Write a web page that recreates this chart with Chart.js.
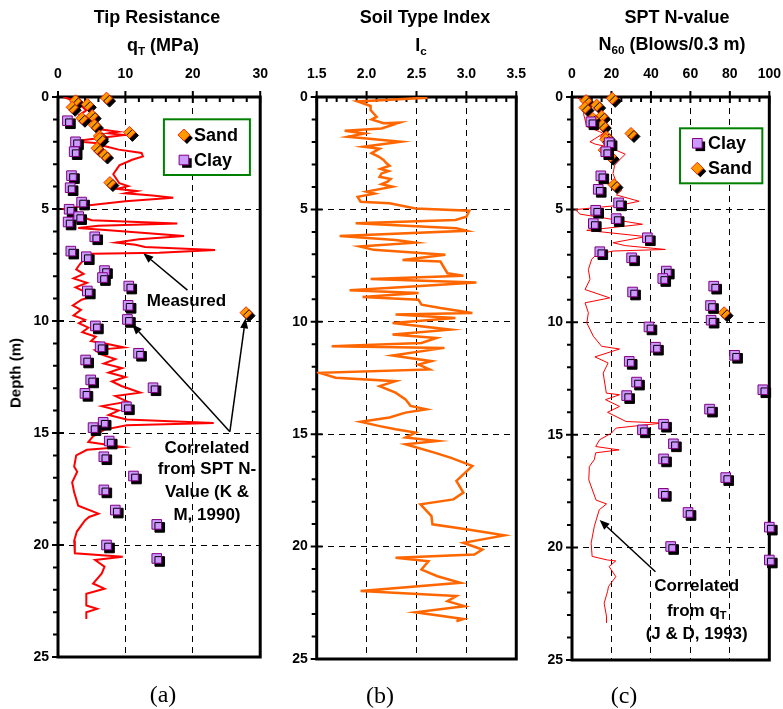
<!DOCTYPE html>
<html>
<head>
<meta charset="utf-8">
<title>CPT / SPT profile</title>
<script src="https://cdn.jsdelivr.net/npm/chart.js@4.4.0/dist/chart.umd.min.js"></script>
<style>
  html, body { margin: 0; padding: 0; background: #fff; overflow: hidden; }
  #page { position: relative; width: 783px; height: 709px; }
  canvas { position: absolute; top: 0; }
  .lbl {
    position: absolute; transform: translate(-50%, -50%); white-space: nowrap;
    font-family: 'Liberation Sans', Arial, sans-serif; font-weight: bold; font-size: 18px;
    line-height: 1; color: #000;
  }
  .lbl sub { font-size: 65%; vertical-align: -0.3em; line-height: 0; }
  .cap { font-family: 'Liberation Serif', 'Times New Roman', serif; font-weight: normal; font-size: 24px; }
</style>
</head>
<body>
<div id="page">
  <canvas id="panelA" width="282" height="709" style="left:0px"></canvas>
  <canvas id="panelB" width="280" height="709" style="left:260px"></canvas>
  <canvas id="panelC" width="280" height="709" style="left:515px"></canvas>

  <div class="lbl" style="left:157px; top:17px">Tip Resistance</div>
  <div class="lbl" style="left:163px; top:45px">q<sub>T</sub> (MPa)</div>
  <div class="lbl" style="left:425px; top:17px">Soil Type Index</div>
  <div class="lbl" style="left:421px; top:45px">I<sub>c</sub></div>
  <div class="lbl" style="left:677px; top:17px">SPT N-value</div>
  <div class="lbl" style="left:672px; top:44px">N<sub>60</sub> (Blows/0.3 m)</div>
  <div class="lbl" style="left:15px; top:373px; font-size:15px; transform:translate(-50%,-50%) rotate(-90deg)">Depth (m)</div>
  <div class="lbl cap" style="left:163px; top:694px">(a)</div>
  <div class="lbl cap" style="left:380px; top:695px">(b)</div>
  <div class="lbl cap" style="left:624px; top:695px">(c)</div>
</div>

<script>
// ---- axis ticks ----
const depthTicks = [0, 5, 10, 15, 20, 25];
const qtTicks = [0, 10, 20, 30];
const icTicks = [1.5, 2.0, 2.5, 3.0, 3.5];
const nTicks = [0, 20, 40, 60, 80, 100];

// ---- panel (a): tip resistance, points are [qT (MPa), depth (m)] ----
const qtMeasured = [
  [0.8, 0], [2.7, 0.2], [3.5, 0.4], [4.2, 0.6], [3.2, 0.8], [4.8, 1.0], [5.5, 1.2], [6.5, 1.45],
  [8.9, 1.55], [7.5, 1.62], [9.8, 1.7], [2.4, 1.98], [5.5, 2.05], [7.0, 2.2], [9.0, 2.35], [12.4, 2.5],
  [12.6, 2.65], [11.0, 2.8], [9.1, 3.05], [8.2, 3.45], [9.1, 3.85], [10.4, 3.98], [8.7, 4.1], [11.7, 4.2],
  [10.0, 4.3], [14.0, 4.4], [17.1, 4.5], [10.0, 4.65], [4.0, 4.85], [0.9, 5.0], [2.0, 5.2], [5.0, 5.5],
  [17.7, 5.65], [6.0, 5.75], [3.0, 5.85], [10.0, 6.0], [18.7, 6.2], [12.0, 6.35], [8.6, 6.5], [11.5, 6.6],
  [12.9, 6.7], [23.3, 6.83], [15.0, 6.95], [5.1, 7.0], [4.0, 7.2], [3.2, 7.48], [2.7, 7.7], [3.8, 7.9],
  [2.3, 8.1], [4.3, 8.3], [2.6, 8.5], [4.0, 8.7], [5.0, 8.9], [3.5, 9.05], [2.2, 9.3], [3.4, 9.5],
  [2.3, 9.75], [4.0, 9.95], [3.1, 10.1], [4.5, 10.3], [3.6, 10.5], [5.6, 10.7], [4.9, 10.9], [7.0, 11.0],
  [9.8, 11.18], [5.5, 11.3], [6.5, 11.5], [8.5, 11.7], [6.8, 11.9], [9.5, 12.1], [7.5, 12.3], [10.0, 12.5],
  [8.0, 12.7], [9.4, 12.9], [12.2, 13.2], [8.5, 13.35], [10.3, 13.6], [6.5, 13.8], [9.0, 14.0], [7.5, 14.2],
  [10.2, 14.4], [23.1, 14.55], [10.2, 14.65], [6.9, 14.85], [5.2, 15.15], [4.5, 15.4], [9.6, 15.62], [4.3, 15.75],
  [2.7, 16.0], [2.4, 16.5], [2.85, 16.73], [2.1, 17.2], [2.4, 17.65], [3.0, 18.25], [6.0, 18.6], [4.6, 18.75],
  [4.0, 18.9], [2.8, 19.4], [2.4, 19.8], [2.5, 20.37], [9.6, 20.52], [5.5, 20.67], [6.9, 20.97], [6.5, 21.27],
  [5.2, 21.72], [6.9, 21.95], [4.2, 22.18], [4.2, 22.7], [5.8, 22.85], [4.2, 23.0], [4.2, 23.3]
];
const qtSand = [
  [7.2, 0.05], [2.6, 0.17], [4.35, 0.33], [2.1, 0.46], [5.07, 0.83], [3.55, 0.95], [5.4, 1.25],
  [10.6, 1.58], [6.15, 1.74], [6.2, 1.85], [5.8, 2.29], [6.9, 2.59], [7.7, 3.82], [27.9, 9.63]
];
const qtClay = [
  [1.4, 1.06], [2.6, 2.0], [2.4, 2.44], [2.0, 3.51], [1.8, 4.05], [3.5, 4.69], [1.65, 5.01], [3.07, 5.34],
  [1.5, 5.58], [5.45, 6.24], [1.9, 6.88], [4.2, 7.13], [6.9, 7.75], [6.6, 8.06], [10.5, 8.44], [4.35, 8.66],
  [10.4, 9.3], [10.3, 9.93], [5.55, 10.22], [6.25, 11.15], [11.95, 11.44], [4.1, 11.74], [4.85, 12.63], [14.1, 12.98],
  [4.0, 13.23], [10.15, 13.83], [6.7, 14.52], [5.2, 14.76], [7.6, 15.36], [6.8, 16.06], [11.2, 16.92], [6.8, 17.54],
  [8.5, 18.44], [14.65, 19.08], [7.2, 20.0], [14.65, 20.6]
];

// ---- panel (b): soil type index, [Ic, depth] ----
const icProfile = [
  [2.61, 0.03], [1.91, 0.2], [2.04, 0.4], [2.04, 0.58], [2.1, 0.88], [2.05, 1.0], [2.17, 1.17], [2.33, 1.14],
  [2.15, 1.4], [1.78, 1.5], [1.98, 1.62], [1.81, 1.77], [2.0, 1.85], [2.34, 1.99], [1.97, 2.21], [2.13, 2.3],
  [2.05, 2.5], [2.12, 2.65], [2.17, 2.8], [2.2, 2.95], [2.23, 3.06], [2.14, 3.2], [2.22, 3.3], [2.15, 3.4],
  [2.13, 3.55], [2.24, 3.65], [2.21, 3.77], [2.15, 3.88], [2.26, 3.99], [2.0, 4.21], [2.08, 4.3],
  [1.91, 4.44], [1.94, 4.66], [2.23, 4.73], [2.49, 4.96], [3.03, 5.06], [3.0, 5.33], [2.89, 5.47], [1.89, 5.62],
  [2.9, 5.84], [3.0, 5.95], [1.73, 6.18], [2.29, 6.36], [2.49, 6.48], [1.93, 6.65], [2.07, 6.8], [2.79, 7.02],
  [2.36, 7.25], [2.74, 7.32], [2.81, 7.84], [2.97, 7.95], [2.04, 8.1], [3.1, 8.25], [2.46, 8.43], [1.83, 8.6],
  [2.52, 8.72], [1.96, 8.9], [2.52, 9.02], [2.55, 9.24], [2.74, 9.39], [3.06, 9.61], [2.29, 9.68], [2.89, 9.83],
  [2.26, 10.05], [2.84, 10.35], [2.26, 10.57], [2.7, 10.72], [2.55, 10.94], [1.65, 11.09], [2.78, 11.16], [2.26, 11.5],
  [2.65, 11.75], [2.52, 11.9], [2.63, 12.12], [1.53, 12.27], [1.69, 12.49], [2.29, 12.64], [2.13, 12.86], [2.29, 13.15],
  [2.39, 13.45], [2.44, 13.74], [2.6, 13.89], [2.39, 14.04], [2.23, 14.26], [1.94, 14.45], [2.12, 14.63], [2.29, 14.78],
  [2.49, 14.93], [2.39, 15.15], [2.71, 15.3], [2.39, 15.45], [2.68, 15.82], [2.84, 16.04], [3.06, 16.41], [2.9, 17.08],
  [2.97, 17.6], [2.87, 17.9], [2.54, 18.12], [2.65, 18.64], [2.66, 19.01], [3.0, 19.23], [3.38, 19.5], [2.97, 19.83],
  [3.16, 20.13], [3.08, 20.35], [2.29, 20.5], [2.62, 20.65], [2.55, 21.02], [2.71, 21.32], [2.94, 21.61], [1.94, 21.98],
  [2.9, 22.2], [2.81, 22.43], [2.98, 22.65], [2.49, 22.92], [2.97, 23.22], [2.9, 23.32]
];

// ---- panel (c): SPT N60, [N60, depth] ----
const nCorrelated = [
  [2.5, 0.03], [7.5, 0.28], [5.8, 0.73], [7.5, 1.32], [14, 1.54], [15.8, 1.62], [9.1, 1.99], [12, 2.1],
  [18.3, 2.21], [27, 2.54], [24, 2.8], [21.6, 3.03], [20.8, 3.4], [22.4, 3.77], [24, 3.92], [25.2, 4.14],
  [22.5, 4.35], [34, 4.63], [24, 4.81], [1.7, 5.0], [4, 5.2], [35.7, 5.65], [7.5, 5.92], [37.4, 6.2],
  [20.8, 6.47], [27, 6.6], [47.3, 6.77], [20.8, 6.84], [12.5, 6.99], [10, 7.2], [8.3, 7.66], [9.1, 8.1],
  [6.6, 8.55], [19.1, 8.92], [6.6, 9.14], [8.3, 9.58], [7.5, 10.03], [10.8, 10.62], [15, 11.07], [24.1, 11.19],
  [11.6, 11.54], [18.3, 11.81], [15.8, 12.26], [16.6, 12.7], [17.4, 13.15], [24.1, 13.22], [17, 13.44], [24.1, 13.74],
  [18, 14.0], [27.4, 14.41], [45.7, 14.48], [22.4, 14.7], [19.9, 14.93], [14, 15.22], [12, 15.52], [23.8, 15.67],
  [12, 15.8], [11.3, 16.1], [8.8, 16.41], [8.5, 17.0], [12.2, 17.9], [17.5, 18.07], [13.8, 18.33], [11.3, 19.07],
  [9.7, 19.81], [10.2, 20.4], [18, 20.56], [22.2, 20.6], [18.8, 20.85], [22.2, 21.3], [18.5, 21.74], [18, 21.96],
  [16.3, 22.48], [17.5, 23.07], [17.5, 23.34]
];
const nSand = [
  [20.4, 0.06], [7.1, 0.16], [12.5, 0.36], [6.6, 0.47], [15.0, 0.85], [10.5, 0.95], [15.4, 1.25],
  [29.9, 1.62], [17.4, 1.77], [17.1, 1.88], [16.3, 2.36], [19.4, 2.63], [21.3, 3.89], [77.1, 9.58]
];
const nClay = [
  [9.6, 1.1], [18.8, 2.03], [17.1, 2.43], [14.6, 3.5], [13.3, 4.1], [23.6, 4.7], [12.0, 5.03], [22.4, 5.4],
  [10.8, 5.62], [38.2, 6.25], [14.1, 6.87], [30.2, 7.14], [47.8, 7.73], [46.0, 8.06], [71.8, 8.4], [30.7, 8.66],
  [70.2, 9.26], [70.5, 9.91], [39.0, 10.21], [42.3, 11.11], [82.4, 11.47], [29.0, 11.74], [32.7, 12.66], [96.7, 13.0],
  [27.7, 13.26], [69.7, 13.86], [46.4, 14.53], [35.7, 14.78], [51.4, 15.4], [46.4, 16.07], [77.9, 16.9], [46.3, 17.6],
  [58.8, 18.45], [100, 19.1], [50, 19.96], [100, 20.56]
];

const FONT = "'Liberation Sans', Arial, sans-serif";
Chart.defaults.color = '#000';

const toXY = pts => pts.map(p => ({ x: p[0], y: p[1] }));

function sandSet(pts) {
  return {
    label: 'Sand', data: toXY(pts), shadow: true, clip: false,
    pointStyle: 'rectRot', pointRadius: 6, backgroundColor: '#FF9900',
    borderColor: '#FF2A00', borderWidth: 1, showLine: false
  };
}
function claySet(pts) {
  return {
    label: 'Clay', data: toXY(pts), shadow: true, clip: false,
    pointStyle: 'rect', pointRadius: 6.8, backgroundColor: '#CC99FF',
    borderColor: '#800080', borderWidth: 1, showLine: false
  };
}
function lineSet(pts, color, width) {
  return {
    label: 'line', data: toXY(pts), showLine: true, pointRadius: 0,
    borderColor: color, borderWidth: width, tension: 0, fill: false
  };
}

function drawMarker(ctx, ds, x, y) {
  const r = ds.pointRadius;
  ctx.beginPath();
  if (ds.pointStyle === 'rect') {
    const h = r * Math.SQRT1_2;
    ctx.rect(x - h, y - h, 2 * h, 2 * h);
  } else {
    ctx.moveTo(x, y - r); ctx.lineTo(x + r, y); ctx.lineTo(x, y + r); ctx.lineTo(x - r, y); ctx.closePath();
  }
  ctx.fillStyle = ds.backgroundColor;
  ctx.strokeStyle = ds.borderColor;
  ctx.lineWidth = ds.borderWidth;
  ctx.fill();
  ctx.shadowColor = 'transparent';
  ctx.stroke();
}

function eachStep(min, max, step, majors, fn) {
  const n = Math.round((max - min) / step);
  for (let i = 0; i <= n; i++) {
    const v = min + i * step;
    fn(v, majors.some(m => Math.abs(m - v) < step / 10));
  }
}

// frame + major/minor tick marks
const ticksFrame = {
  id: 'ticksFrame',
  beforeDatasetsDraw(chart, args, opts) {
    const { ctx, chartArea: a, scales: { x, y } } = chart;
    ctx.save();
    ctx.strokeStyle = '#000';
    ctx.lineWidth = 2;
    ctx.beginPath();
    eachStep(x.min, x.max, opts.minorX, opts.majorX, (v, major) => {
      const px = x.getPixelForValue(v);
      ctx.moveTo(px, major ? a.top - 6 : a.top);
      ctx.lineTo(px, major ? a.top + 6 : a.top + 5);
    });
    eachStep(y.min, y.max, opts.minorY, opts.majorY, (v, major) => {
      const py = y.getPixelForValue(v);
      ctx.moveTo(major ? a.left - 6 : a.left - 5, py);
      ctx.lineTo(major ? a.left + 6 : a.left, py);
    });
    ctx.stroke();
    ctx.lineWidth = 3;
    ctx.strokeRect(a.left, a.top, a.right - a.left, a.bottom - a.top);
    ctx.restore();
  }
};

// black drop shadow under the sample markers
const markerShadow = {
  id: 'markerShadow',
  beforeDatasetDraw(chart, args) {
    if (!chart.data.datasets[args.index].shadow) return;
    const ctx = chart.ctx;
    ctx.save();
    ctx.shadowColor = '#000';
    ctx.shadowOffsetX = 3;
    ctx.shadowOffsetY = 3;
    ctx.shadowBlur = 0;
  },
  afterDatasetDraw(chart, args) {
    if (chart.data.datasets[args.index].shadow) chart.ctx.restore();
  }
};

// boxed legend with green border
const boxLegend = {
  id: 'boxLegend',
  afterDraw(chart, args, opts) {
    if (!opts.items) return;
    const { ctx, chartArea: a } = chart;
    const bx = a.right - opts.right - opts.width;
    const by = a.top + opts.top;
    ctx.save();
    ctx.fillStyle = '#fff';
    ctx.fillRect(bx, by, opts.width, opts.height);
    ctx.strokeStyle = '#008000';
    ctx.lineWidth = 2;
    ctx.strokeRect(bx, by, opts.width, opts.height);
    opts.items.forEach((idx, i) => {
      const ds = chart.data.datasets[idx];
      const cy = by + opts.rowTop + i * opts.rowGap;
      ctx.save();
      ctx.shadowColor = '#000'; ctx.shadowOffsetX = 3; ctx.shadowOffsetY = 3; ctx.shadowBlur = 0;
      drawMarker(ctx, ds, bx + opts.markX, cy);
      ctx.restore();
      ctx.fillStyle = '#000';
      ctx.font = 'bold 18px ' + FONT;
      ctx.textAlign = 'left';
      ctx.textBaseline = 'middle';
      ctx.fillText(ds.label, bx + opts.textX, cy + 1);
    });
    ctx.restore();
  }
};

// callout texts and arrows, placed in data units
const notes = {
  id: 'notes',
  afterDatasetsDraw(chart, args, opts) {
    const { ctx, scales: { x, y } } = chart;
    ctx.save();
    ctx.strokeStyle = '#000';
    ctx.fillStyle = '#000';
    ctx.lineWidth = 1.5;
    (opts.arrows || []).forEach(ar => {
      const x0 = x.getPixelForValue(ar[0]), y0 = y.getPixelForValue(ar[1]);
      const x1 = x.getPixelForValue(ar[2]), y1 = y.getPixelForValue(ar[3]);
      const ang = Math.atan2(y1 - y0, x1 - x0);
      const hl = 10, hw = 4;
      const bx = x1 - hl * Math.cos(ang), by = y1 - hl * Math.sin(ang);
      ctx.beginPath();
      ctx.moveTo(x0, y0);
      ctx.lineTo(bx, by);
      ctx.stroke();
      ctx.beginPath();
      ctx.moveTo(x1, y1);
      ctx.lineTo(bx + hw * Math.sin(ang), by - hw * Math.cos(ang));
      ctx.lineTo(bx - hw * Math.sin(ang), by + hw * Math.cos(ang));
      ctx.closePath();
      ctx.fill();
    });
    const main = 'bold 17px ' + FONT, small = 'bold 11px ' + FONT;
    ctx.textBaseline = 'middle';
    ctx.textAlign = 'left';
    (opts.texts || []).forEach(t => {
      const cx = x.getPixelForValue(t.x), cy = y.getPixelForValue(t.y);
      ctx.font = main;
      const w1 = ctx.measureText(t.text).width;
      ctx.font = small;
      const w2 = t.sub ? ctx.measureText(t.sub).width : 0;
      const left = cx - (w1 + w2) / 2;
      ctx.font = main;
      ctx.fillText(t.text, left, cy);
      if (t.sub) {
        ctx.font = small;
        ctx.fillText(t.sub, left + w1, cy + 5);
      }
    });
    ctx.restore();
  }
};

Chart.register(ticksFrame, markerShadow, boxLegend, notes);

function gridColor(ticks) {
  return c => (c.tick && (c.tick.value === ticks[0] || c.tick.value === ticks[ticks.length - 1]))
    ? 'rgba(0,0,0,0)' : '#000';
}

function makePanel(id, cfg) {
  const tickFont = { family: FONT, size: 14, weight: 'bold' };
  return new Chart(document.getElementById(id), {
    type: 'scatter',
    data: { datasets: cfg.datasets },
    options: {
      responsive: false,
      animation: false,
      devicePixelRatio: 1,
      layout: { padding: cfg.padding },
      plugins: {
        legend: { display: false },
        tooltip: { enabled: false },
        ticksFrame: { minorX: cfg.minorX, majorX: cfg.xTicks, minorY: 1, majorY: depthTicks },
        boxLegend: cfg.legend || {},
        notes: cfg.notes || {}
      },
      scales: {
        x: {
          type: 'linear', position: 'top',
          min: cfg.xTicks[0], max: cfg.xTicks[cfg.xTicks.length - 1],
          afterBuildTicks: s => { s.ticks = cfg.xTicks.map(v => ({ value: v })); },
          afterFit: s => { s.height = 97; },
          ticks: { font: tickFont, color: '#000', padding: 14, maxRotation: 0, autoSkip: false,
                   callback: cfg.xFormat || (v => String(v)) },
          grid: { drawTicks: false, color: gridColor(cfg.xTicks), lineWidth: 1 },
          border: { display: false, dash: [6, 5] }
        },
        y: {
          type: 'linear', reverse: true,
          min: depthTicks[0], max: depthTicks[depthTicks.length - 1],
          afterBuildTicks: s => { s.ticks = depthTicks.map(v => ({ value: v })); },
          afterFit: s => { s.width = cfg.yWidth; },
          ticks: { font: tickFont, color: '#000', padding: 9, autoSkip: false },
          grid: { drawTicks: false, color: gridColor(depthTicks), lineWidth: 1 },
          border: { display: false, dash: [6, 5] }
        }
      }
    }
  });
}

makePanel('panelA', {
  xTicks: qtTicks, minorX: 2, yWidth: 58,
  padding: { left: 0, right: 14, top: 0, bottom: 52 },
  datasets: [sandSet(qtSand), claySet(qtClay), lineSet(qtMeasured, '#FF0000', 2)],
  legend: { items: [0, 1], right: 10.3, width: 86, top: 22.3, height: 55.7, rowTop: 15.7, rowGap: 25, markX: 20, textX: 30 },
  notes: {
    arrows: [[19.2, 8.62, 12.66, 6.98], [25.5, 14.94, 11.0, 10.15], [25.5, 14.94, 27.82, 9.88]],
    texts: [
      { x: 19.06, y: 9.14, text: 'Measured' },
      { x: 22.1, y: 15.67, text: 'Correlated' },
      { x: 22.1, y: 16.61, text: 'from SPT N-' },
      { x: 22.1, y: 17.63, text: 'Value (K &' },
      { x: 22.1, y: 18.69, text: 'M, 1990)' }
    ]
  }
});

makePanel('panelB', {
  xTicks: icTicks, minorX: 0.1, yWidth: 56.7, xFormat: v => Number(v).toFixed(1),
  padding: { left: 0, right: 14.3, top: 0, bottom: 50 },
  datasets: [lineSet(icProfile, '#FF6600', 2.5)]
});

makePanel('panelC', {
  xTicks: nTicks, minorX: 5, yWidth: 57,
  padding: { left: 0, right: 23, top: 0, bottom: 49 },
  datasets: [claySet(nClay), sandSet(nSand), lineSet(nCorrelated, '#FF0000', 1)],
  legend: { items: [0, 1], right: 7, width: 82.3, top: 31.3, height: 55, rowTop: 15, rowGap: 25, markX: 17.3, textX: 28 },
  notes: {
    arrows: [[42.3, 21.08, 14, 18.78]],
    texts: [
      { x: 63.2, y: 21.75, text: 'Correlated' },
      { x: 63.2, y: 22.82, text: 'from q', sub: 'T' },
      { x: 63.2, y: 23.85, text: '(J & D, 1993)' }
    ]
  }
});
</script>
</body>
</html>
